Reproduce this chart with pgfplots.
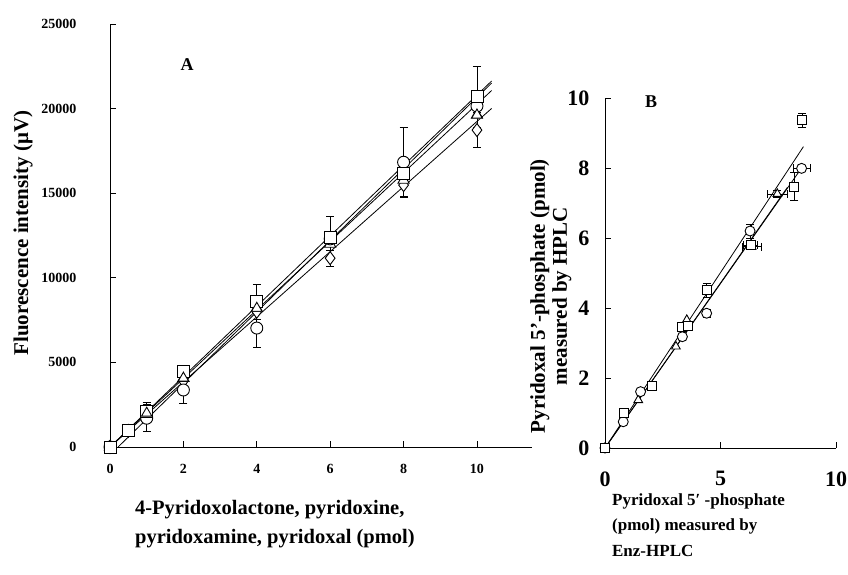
\documentclass[border=0pt]{standalone}
\usepackage{fontspec}
\setmainfont{Liberation Serif}
\usepackage{pgfplots}
\pgfplotsset{compat=1.18}

\pgfplotsset{
  panel/.style={
    scale only axis,
    axis x line=bottom, axis y line=left,
    axis line style={-, line width=1pt, black},
    tick align=inside,
    major tick length=6pt,
    tick style={line width=0.9pt, black},
    clip=false,
    scaled ticks=false,
    /pgf/number format/assume math mode=true,
    /pgf/number format/1000 sep={},
  },
  fitline/.style={black, line width=0.8pt, no marks},
  ebars/.style={
    error bars/.cd, x dir=both, x explicit, y dir=both, y explicit,
    error bar style={black, line width=0.8pt},
    error mark options={black, mark size=4pt, line width=0.8pt, rotate=90},
  },
  sq/.style={only marks, mark=square*, mark size=#1,
    mark options={fill=white, draw=black, line width=0.9pt}},
  ci/.style={only marks, mark=*, mark size=#1,
    mark options={fill=white, draw=black, line width=0.9pt}},
  tr/.style={only marks, mark=triangle*, mark size=#1,
    mark options={fill=white, draw=black, line width=0.9pt}},
  di/.style={only marks, mark=diamond*, mark size=#1,
    mark options={fill=white, draw=black, line width=0.9pt}},
}

\begin{document}
\begin{tikzpicture}
\useasboundingbox (0,0) rectangle (848pt,574pt);

% ---------- panel A ----------
\begin{axis}[panel,
  at={(110pt,127pt)}, anchor=south west,
  width=422pt, height=423pt,
  xmin=0, xmax=11.5, ymin=0, ymax=25000,
  xtick={0,2,...,10}, ytick={0,5000,...,25000},
  xticklabel style={font=\fontsize{14}{14}\selectfont\bfseries, yshift=-14pt},
  yticklabel style={font=\fontsize{14}{14}\selectfont\bfseries, anchor=east, xshift=-30pt},
  xlabel={4-Pyridoxolactone, pyridoxine,\\pyridoxamine, pyridoxal (pmol)},
  xlabel style={at={(axis description cs:0.059,0)}, anchor=north west,
    inner sep=0pt, yshift=-53pt, align=left,
    font=\fontsize{20.5}{29}\selectfont\bfseries},
  ylabel={Fluorescence intensity (μV)},
  ylabel style={at={(axis description cs:-0.206,0.506)}, anchor=center,
    font=\fontsize{21}{21}\selectfont\bfseries},
]
\addplot[fitline] coordinates {(0,0) (10.4,21630)};
\addplot[fitline] coordinates {(0.22,0) (10.4,21510)};
\addplot[fitline] coordinates {(0,0) (10.4,21070)};
\addplot[fitline] coordinates {(0,0) (10.4,20010)};

% diamonds
\addplot[di=6.5pt, ebars] coordinates {
  (0,0) (0.5,950) (1,1900) (2,3900) (4,8000)
  (6,11160) +- (0,460) (8,15480) +- (0,680) (10,18730) +- (0,1030)};
% triangles
\addplot[tr=6.5pt] coordinates {
  (0,0) (0.5,900) (1,2000) (2,4070) (4,8200) (6,12000) (8,15780) (10,19620)};
% circles
\addplot[ci=6pt, ebars] coordinates {
  (0,0) (1,1700) +- (0,800) (2,3370) +- (0,770) (4,7030) +- (0,1160)
  (6,12300) (8,16830) +- (0,2060) (10,20150)};
% squares
\addplot[sq=6pt, ebars] coordinates {
  (0,0) (0.5,1000) (1,2090) +- (0,530) (2,4450) (4,8590) +- (0,1040)
  (6,12400) +- (0,1200) (8,16170) (10,20690) +- (0,1800)};
% triangles again, on top where they show in front
\addplot[tr=6pt] coordinates {(1,2000) (2,4070) (4,8200) (10,19620)};

\node[font=\fontsize{18}{18}\selectfont\bfseries] at (axis cs:2.1,22580) {A};
\end{axis}

% ---------- panel B ----------
\begin{axis}[panel,
  at={(605pt,126pt)}, anchor=south west,
  width=231pt, height=350pt,
  xmin=0, xmax=10, ymin=0, ymax=10,
  xtick={0,5,10}, ytick={0,2,...,10},
  xticklabel style={font=\fontsize{22}{22}\selectfont\bfseries, yshift=-20pt},
  yticklabel style={font=\fontsize{22}{22}\selectfont\bfseries, xshift=-12pt},
  xlabel={Pyridoxal 5′ -phosphate\\(pmol) measured by\\Enz-HPLC},
  xlabel style={at={(axis description cs:0.03,0)}, anchor=north west,
    inner sep=0pt, yshift=-45pt, align=left,
    font=\fontsize{17}{25.5}\selectfont\bfseries},
  ylabel={Pyridoxal 5'-phosphate (pmol)\\measured by HPLC},
  ylabel style={at={(axis description cs:-0.234,0.434)}, anchor=center,
    align=center, font=\fontsize{21}{22}\selectfont\bfseries},
]
\addplot[fitline] coordinates {(0,0) (8.59,8.61)};
\addplot[fitline] coordinates {(0,0) (8.51,8.0)};
\addplot[fitline] coordinates {(0,0) (7.9,7.45)};

% triangles
\addplot[tr=5pt, ebars] coordinates {
  (0,0) (1.44,1.37) (3.07,2.9) (3.54,3.66)
  (6.35,5.75) +- (0.4,0.08) (7.46,7.26) +- (0.45,0.1)};
% circles
\addplot[ci=5pt, ebars] coordinates {
  (0,0) (0.79,0.75) (1.54,1.61) (3.35,3.18) (4.4,3.85) +- (0.05,0.12)
  (6.28,6.2) +- (0.05,0.2) (8.51,7.99) +- (0.36,0.05)};
% squares
\addplot[sq=4.5pt, ebars] coordinates {
  (0,0) (0.82,1.01) +- (0.05,0.12) (2.02,1.78) +- (0.05,0.08)
  (3.32,3.47) +- (0.05,0.08) (3.6,3.49) +- (0.05,0.08)
  (4.4,4.51) +- (0.05,0.2) (6.3,5.8) +- (0.3,0.05)
  (8.2,7.47) +- (0.05,0.4) (8.53,9.37) +- (0.05,0.2)};

\node[font=\fontsize{18}{18}\selectfont\bfseries] at (axis cs:2.0,9.9) {B};
\end{axis}
\end{tikzpicture}
\end{document}
